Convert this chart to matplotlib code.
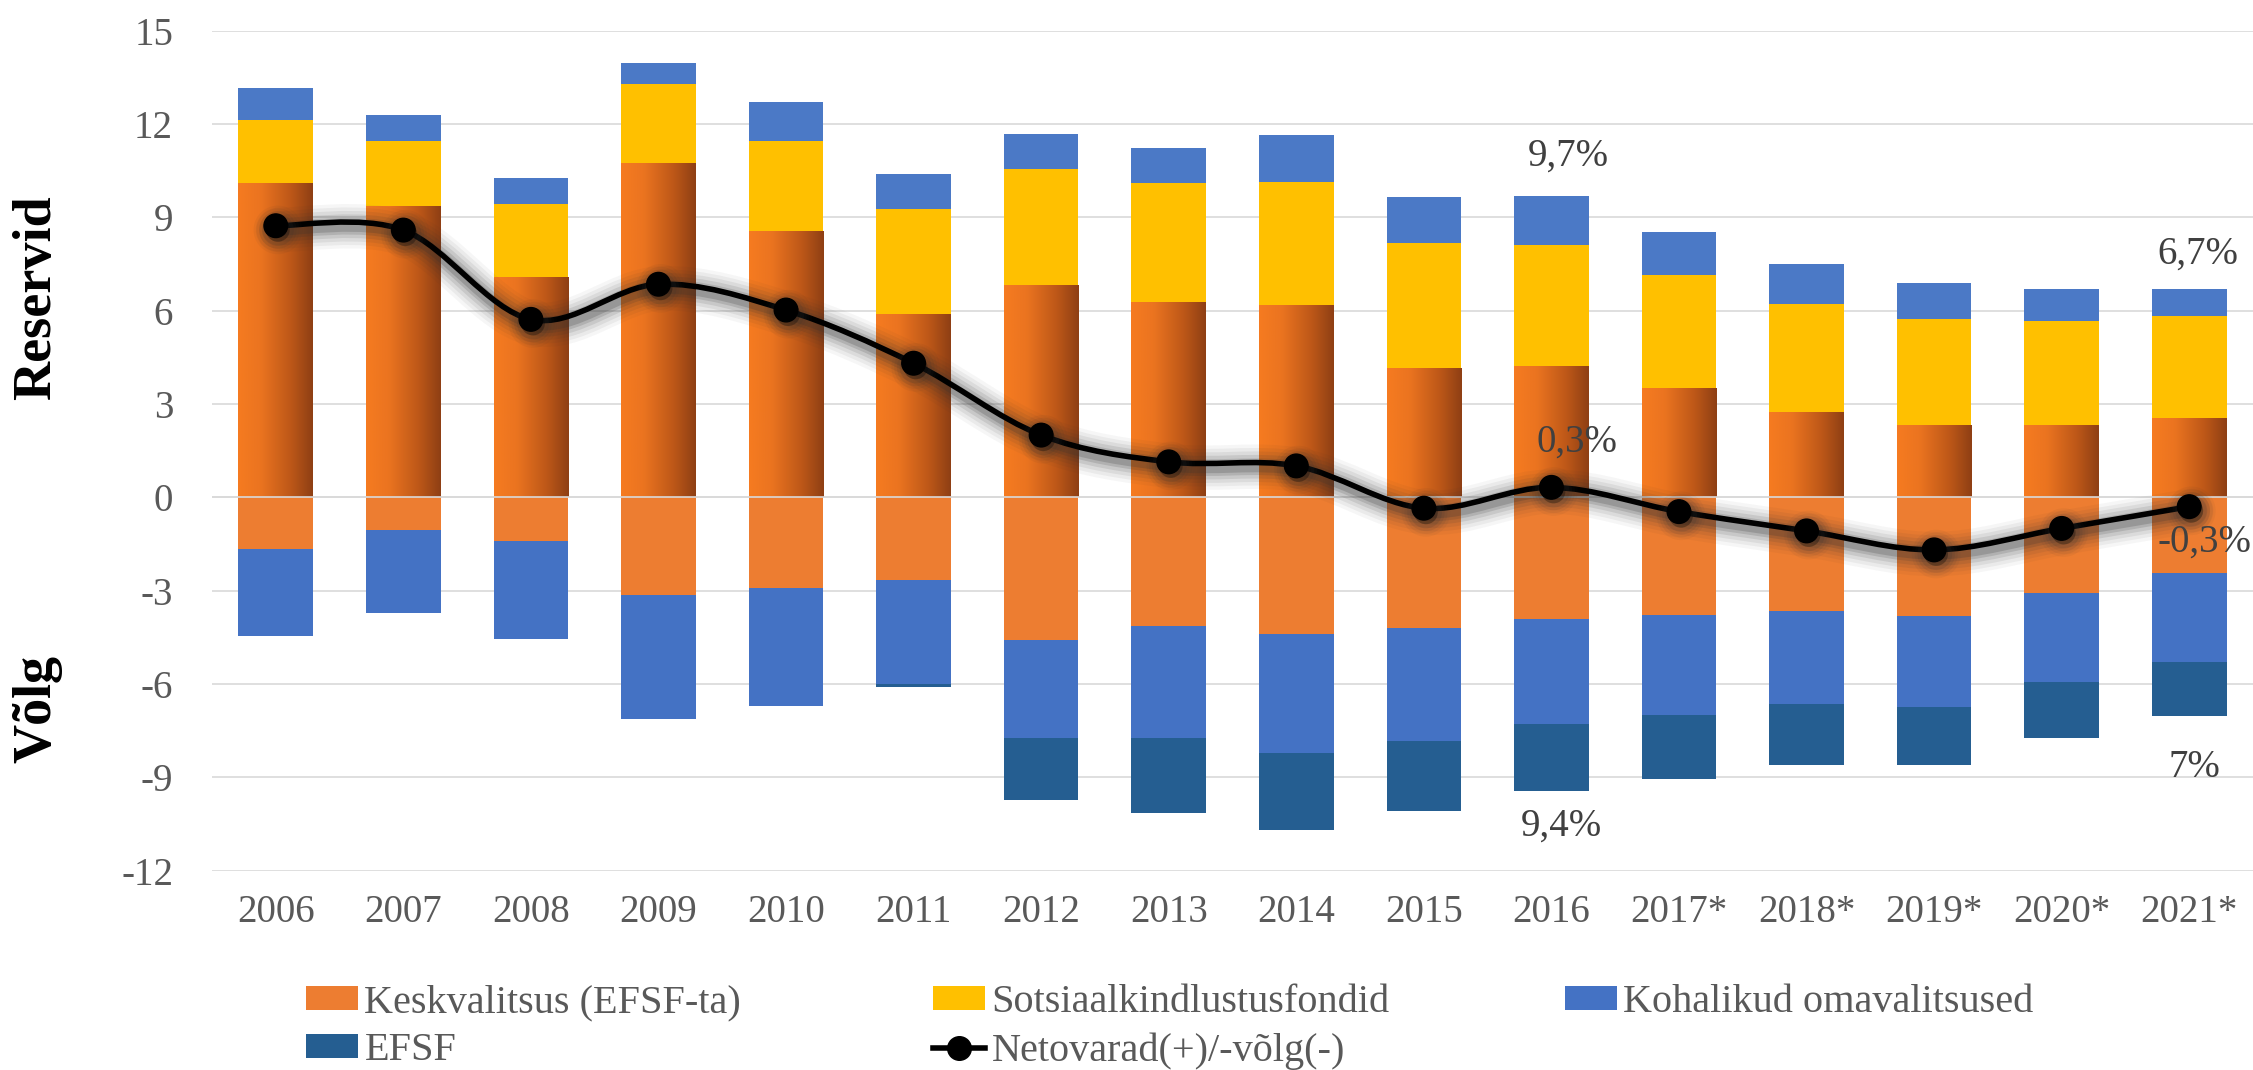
import numpy as np
import matplotlib
matplotlib.use("Agg")
import matplotlib.pyplot as plt
import matplotlib.patheffects as pe
from matplotlib.path import Path
from matplotlib.patches import PathPatch, Patch
from matplotlib.lines import Line2D
from matplotlib.colors import LinearSegmentedColormap

plt.rcParams['font.family'] = ['Liberation Serif', 'DejaVu Serif']
plt.rcParams['axes.unicode_minus'] = False

years = ['2006', '2007', '2008', '2009', '2010', '2011', '2012', '2013', '2014',
         '2015', '2016', '2017*', '2018*', '2019*', '2020*', '2021*']

# positive side (reserves)
kesk_pos = [10.08, 9.33, 7.06, 10.72, 8.54, 5.87, 6.81, 6.25, 6.16, 4.13, 4.20, 3.49, 2.72, 2.30, 2.30, 2.53]
sots = [2.05, 2.12, 2.38, 2.57, 2.91, 3.40, 3.74, 3.85, 3.97, 4.04, 3.91, 3.66, 3.49, 3.43, 3.37, 3.30]
koh_pos = [1.03, 0.84, 0.82, 0.67, 1.26, 1.12, 1.13, 1.13, 1.52, 1.48, 1.57, 1.38, 1.29, 1.16, 1.03, 0.87]

# negative side (debt)
kesk_neg = [-1.66, -1.04, -1.40, -3.14, -2.90, -2.65, -4.59, -4.13, -4.38, -4.19, -3.91, -3.78, -3.65, -3.80, -3.08, -2.43]
koh_neg = [-2.79, -2.68, -3.15, -3.98, -3.80, -3.35, -3.14, -3.60, -3.84, -3.64, -3.38, -3.22, -2.99, -2.94, -2.86, -2.86]
efsf = [0, 0, 0, 0, 0, -0.09, -1.99, -2.41, -2.46, -2.24, -2.14, -2.04, -1.95, -1.85, -1.79, -1.74]

# net assets(+)/debt(-)
net = [8.73, 8.59, 5.72, 6.85, 6.02, 4.31, 2.00, 1.14, 1.01, -0.35, 0.32, -0.46, -1.08, -1.69, -1.00, -0.30]

# annotations (text, x, y)
notes = [('9,7%', 10.13, 10.97), ('0,3%', 10.20, 1.78), ('9,4%', 10.08, -10.57),
         ('6,7%', 15.07, 7.82), ('-0,3%', 15.12, -1.44), ('7%', 15.04, -8.70)]

C_ORANGE = '#ED7D31'
C_YELLOW = '#FFC000'
C_BLUE_POS = '#4B79C6'
C_BLUE = '#4472C4'
C_EFSF = '#255E91'
GRAY_TXT = '#595959'

W, H = 2253, 1070
fig = plt.figure(figsize=(W / 100, H / 100), dpi=100)
ax_left, ax_right, ax_top, ax_bot = 212, 2253, 30.7, 870.6
ax = fig.add_axes([ax_left / W, 1 - ax_bot / H, (ax_right - ax_left) / W, (ax_bot - ax_top) / H])

x = np.arange(len(years))
bw = 0.585

kp = np.array(kesk_pos)
sp = np.array(sots)
kn = np.array(kesk_neg)
hn = np.array(koh_neg)

bars_k = ax.bar(x, kp, bw, color=C_ORANGE, zorder=2)
ax.bar(x, sp, bw, bottom=kp, color=C_YELLOW, zorder=2)
ax.bar(x, koh_pos, bw, bottom=kp + sp, color=C_BLUE_POS, zorder=2)
ax.bar(x, kn, bw, color=C_ORANGE, zorder=2)
ax.bar(x, hn, bw, bottom=kn, color=C_BLUE, zorder=2)
ax.bar(x, efsf, bw, bottom=kn + hn, color=C_EFSF, zorder=2)

# gradient fill for positive central-government bars
cmap = LinearSegmentedColormap.from_list('og', [(0, '#F67B20'), (0.3, '#EB7420'), (0.7, '#BE5818'), (1, '#8E3F14')])
grad = np.linspace(0, 1, 256).reshape(1, -1)
for r in bars_k.patches:
    ax.imshow(grad, extent=[r.get_x(), r.get_x() + r.get_width(), r.get_y(), r.get_y() + r.get_height()],
              aspect='auto', cmap=cmap, zorder=2.5, interpolation='bicubic')

# smooth net line (Catmull-Rom style Bezier through the data points)
pts = np.column_stack([x, net]).astype(float)
n = len(pts)
verts = [tuple(pts[0])]
codes = [Path.MOVETO]
for i in range(n - 1):
    p0 = pts[i - 1] if i > 0 else pts[i]
    p3 = pts[i + 2] if i + 2 < n else pts[i + 1]
    c1 = pts[i] + (pts[i + 1] - p0) / 6
    c2 = pts[i + 1] - (p3 - pts[i]) / 6
    verts += [tuple(c1), tuple(c2), tuple(pts[i + 1])]
    codes += [Path.CURVE4] * 3

shadow = [pe.Stroke(linewidth=w, foreground='#303030', alpha=a, offset=(1.5, -3))
          for w, a in ((32, 0.04), (27, 0.06), (22, 0.08), (17, 0.11), (12, 0.15), (8, 0.2))]
line = PathPatch(Path(verts, codes), fill=False, lw=4.0, ec='black', zorder=5,
                 path_effects=shadow + [pe.Normal()], capstyle='round', joinstyle='round')
ax.add_patch(line)
mshadow = [pe.Stroke(linewidth=w, foreground='#303030', alpha=a, offset=(1.5, -3))
           for w, a in ((18, 0.05), (14, 0.07), (10, 0.1), (6, 0.14))]
ax.plot(x, net, linestyle='none', marker='o', ms=17, color='black', zorder=6,
        path_effects=mshadow + [pe.Normal()])

ax.axhline(0, color='#D9D9D9', lw=1.2, zorder=3)

for t, tx, ty in notes:
    ax.text(tx, ty, t, ha='center', va='center', fontsize=28, color='#404040', zorder=7)

ax.set_xlim(-0.5, 15.5)
ax.set_ylim(-12, 15)
ax.set_yticks(range(-12, 16, 3))
ax.set_xticks(x)
ax.set_xticklabels(years)
ax.tick_params(axis='both', length=0, labelsize=28, labelcolor=GRAY_TXT)
ax.tick_params(axis='y', pad=28)
ax.tick_params(axis='x', pad=17)
ax.yaxis.grid(True, color='#D9D9D9', lw=1.2, zorder=0)
ax.set_axisbelow(True)
for s in ax.spines.values():
    s.set_visible(False)

fig.text(37 / W, 1 - 298 / H, 'Reservid', rotation=90, ha='center', va='center',
         fontsize=39, fontweight='bold', color='black')
fig.text(37 / W, 1 - 709 / H, 'Võlg', rotation=90, ha='center', va='center',
         fontsize=39, fontweight='bold', color='black')

# legend
hK = Patch(facecolor=C_ORANGE)
hS = Patch(facecolor=C_YELLOW)
hH = Patch(facecolor=C_BLUE)
hE = Patch(facecolor=C_EFSF)
hN = Line2D([], [], color='black', lw=4.0, marker='o', ms=17)
common = dict(frameon=False, fontsize=29, borderpad=0, borderaxespad=0, handlelength=1.3,
              handleheight=0.55, handletextpad=0.15, labelspacing=0.28, labelcolor=GRAY_TXT)
legtop = 1 - 984 / H
fig.legend([hK, hE], ['Keskvalitsus (EFSF-ta)', 'EFSF'], loc='upper left',
           bbox_to_anchor=(306 / W, legtop), **common)
fig.legend([hS, hN], ['Sotsiaalkindlustusfondid', 'Netovarad(+)/-võlg(-)'], loc='upper left',
           bbox_to_anchor=(933 / W, legtop), **common)
fig.legend([hH], ['Kohalikud omavalitsused'], loc='upper left',
           bbox_to_anchor=(1565 / W, legtop), **common)

fig.savefig('out.png', dpi=100)
